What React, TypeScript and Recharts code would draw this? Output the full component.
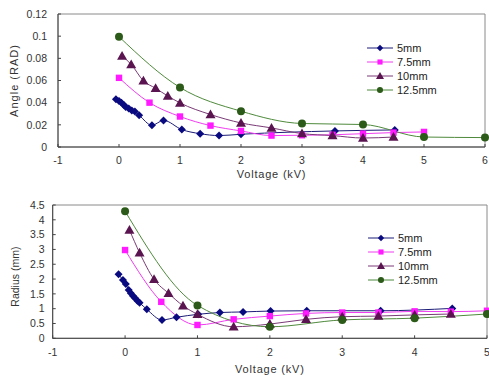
import React from "react"
import {
  Line,
  LineChart,
  ReferenceArea,
  XAxis,
  YAxis,
} from "recharts"

// ---- top chart: angle vs voltage ----
const angleX5 = [-0.05, 0, 0.04, 0.08, 0.11, 0.16, 0.21, 0.26, 0.33, 0.54, 0.73, 1.03, 1.33, 1.64, 2.0, 3.54, 4.52]
const angleY5 = [0.0431, 0.0416, 0.04, 0.038, 0.036, 0.0347, 0.033, 0.032, 0.0287, 0.0196, 0.024, 0.0157, 0.012, 0.0103, 0.0115, 0.0145, 0.0154]
const angleX75 = [0, 0.5, 1, 1.5, 2, 2.5, 3, 3.5, 4, 4.5, 5]
const angleY75 = [0.0624, 0.04, 0.0275, 0.0193, 0.0145, 0.0103, 0.0106, 0.011, 0.012, 0.013, 0.0136]
const angleX10 = [0.05, 0.2, 0.4, 0.6, 0.8, 1, 1.5, 2, 2.5, 3, 3.5, 4, 4.5]
const angleY10 = [0.082, 0.0745, 0.0597, 0.053, 0.046, 0.0398, 0.0293, 0.0217, 0.0172, 0.0121, 0.0103, 0.0081, 0.009]
const angleX125 = [0, 1, 2, 3, 4, 5, 6]
const angleY125 = [0.0995, 0.0537, 0.0323, 0.0212, 0.0203, 0.009, 0.0085]

// ---- bottom chart: radius vs voltage ----
const radiusX5 = [-0.09, -0.03, 0.01, 0.05, 0.08, 0.11, 0.14, 0.17, 0.2, 0.3, 0.51, 0.71, 1.01, 1.31, 1.63, 2.01, 2.51, 3.53, 4.52]
const radiusY5 = [2.16, 1.97, 1.83, 1.63, 1.52, 1.43, 1.35, 1.27, 1.2, 0.98, 0.62, 0.71, 0.81, 0.87, 0.89, 0.92, 0.93, 0.93, 1.01]
const radiusX75 = [0, 0.5, 1, 1.5, 2, 2.5, 3, 3.5, 4, 4.5, 5]
const radiusY75 = [2.98, 1.23, 0.45, 0.64, 0.75, 0.84, 0.87, 0.87, 0.91, 0.9, 0.93]
const radiusX10 = [0.06, 0.2, 0.4, 0.6, 0.8, 1, 1.5, 2, 2.5, 3, 3.5, 4, 4.5]
const radiusY10 = [3.66, 2.89, 1.99, 1.52, 1.1, 0.81, 0.39, 0.48, 0.64, 0.73, 0.75, 0.79, 0.82]
const radiusX125 = [0, 1, 2, 3, 4, 5]
const radiusY125 = [4.29, 1.11, 0.39, 0.62, 0.68, 0.82]

const seriesNames = ["5mm", "7.5mm", "10mm", "12.5mm"]

const angleTicksX = [-1, 0, 1, 2, 3, 4, 5, 6]
const angleTicksY = [0, 0.02, 0.04, 0.06, 0.08, 0.1, 0.12]
const radiusTicksX = [-1, 0, 1, 2, 3, 4, 5]
const radiusTicksY = [0, 0.5, 1, 1.5, 2, 2.5, 3, 3.5, 4, 4.5]

type Shape = "diamond" | "square" | "triangle" | "circle"

const styles: { shape: Shape; line: string; fill: string }[] = [
  { shape: "diamond", line: "#1c1c78", fill: "#0a0a80" },
  { shape: "square", line: "#f03cf0", fill: "#ff1aff" },
  { shape: "triangle", line: "#7a3a76", fill: "#5a1450" },
  { shape: "circle", line: "#4f8a3c", fill: "#2c5a18" },
]

const zip = (xs: number[], ys: number[]) => xs.map((x, i) => ({ x, y: ys[i] }))

const angleSeries = [
  zip(angleX5, angleY5),
  zip(angleX75, angleY75),
  zip(angleX10, angleY10),
  zip(angleX125, angleY125),
]
const radiusSeries = [
  zip(radiusX5, radiusY5),
  zip(radiusX75, radiusY75),
  zip(radiusX10, radiusY10),
  zip(radiusX125, radiusY125),
]

function Marker({ shape, cx, cy, color, s }: { shape: Shape; cx: number; cy: number; color: string; s: number }) {
  if (shape === "diamond")
    return <polygon points={`${cx},${cy - s} ${cx + s},${cy} ${cx},${cy + s} ${cx - s},${cy}`} fill={color} />
  if (shape === "square")
    return <rect x={cx - s * 0.8} y={cy - s * 0.8} width={s * 1.6} height={s * 1.6} fill={color} />
  if (shape === "triangle")
    return <polygon points={`${cx},${cy - s} ${cx + s},${cy + s * 0.75} ${cx - s},${cy + s * 0.75}`} fill={color} />
  return <circle cx={cx} cy={cy} r={s * 0.95} fill={color} />
}

const dotSize: Record<Shape, number> = { diamond: 4, square: 4, triangle: 5, circle: 4.2 }

const makeDot = (i: number) => (props: any) => {
  const { cx, cy, index } = props
  const st = styles[i]
  return <Marker key={`d${i}-${index}`} shape={st.shape} cx={cx} cy={cy} color={st.fill} s={dotSize[st.shape]} />
}

// legend drawn over the chart, like the Excel original
function LegendBox({ left, top }: { left: number; top: number }) {
  return (
    <svg width={110} height={60} style={{ position: "absolute", left, top }}>
      {seriesNames.map((name, i) => {
        const y = 7 + i * 14
        const st = styles[i]
        return (
          <g key={name}>
            <line x1={1} x2={27} y1={y} y2={y} stroke={st.line} strokeWidth={1} />
            <Marker shape={st.shape} cx={14} cy={y} color={st.fill} s={st.shape === "triangle" ? 4 : 3.2} />
            <text x={31} y={y + 4} fontSize={11} fill="#222">
              {name}
            </text>
          </g>
        )
      })}
    </svg>
  )
}

const tickStyle = { fontSize: 10.5, fill: "#333" }
const xLabelStyle = { fontSize: 11, fill: "#333", letterSpacing: 0.8 }

export default function App() {
  return (
    <div
      style={{
        position: "absolute",
        left: 0,
        top: 0,
        width: 489,
        height: 376,
        background: "#fff",
        fontFamily: "'Liberation Sans', Arial, sans-serif",
      }}
    >
      <div style={{ position: "absolute", left: 0, top: 0 }}>
        <LineChart width={489} height={180} margin={{ top: 14, right: 4, left: 0, bottom: 0 }}>
          <ReferenceArea x1={-1} x2={6} y1={0} y2={0.12} fill="none" stroke="#8a8a8a" strokeWidth={1} ifOverflow="visible" />
          <XAxis
            type="number"
            dataKey="x"
            domain={[-1, 6]}
            ticks={angleTicksX}
            interval={0}
            height={33}
            stroke="#444"
            tick={tickStyle}
            tickSize={-3}
            tickMargin={13}
            label={{ value: "Voltage (kV)", position: "insideBottom", offset: 2, style: xLabelStyle }}
          />
          <YAxis
            type="number"
            dataKey="y"
            domain={[0, 0.12]}
            ticks={angleTicksY}
            interval={0}
            width={58}
            stroke="#444"
            tick={tickStyle}
            tickSize={-3}
            tickMargin={14}
            label={{ value: "Angle (RAD)", angle: -90, position: "insideLeft", dx: 9, style: { textAnchor: "middle", fontSize: 11, fill: "#333", letterSpacing: 1 } }}
          />
          {angleSeries.map((d, i) => (
            <Line
              key={seriesNames[i]}
              data={d}
              dataKey="y"
              name={seriesNames[i]}
              type="monotone"
              stroke={styles[i].line}
              strokeWidth={1}
              dot={makeDot(i)}
              activeDot={false}
              isAnimationActive={false}
            />
          ))}
        </LineChart>
        <LegendBox left={366} top={41} />
      </div>
      <div style={{ position: "absolute", left: 0, top: 180 }}>
        <LineChart width={489} height={196} margin={{ top: 25, right: 2, left: 0, bottom: 0 }}>
          <ReferenceArea x1={-1} x2={5} y1={0} y2={4.5} fill="none" stroke="#8a8a8a" strokeWidth={1} ifOverflow="visible" />
          <XAxis
            type="number"
            dataKey="x"
            domain={[-1, 5]}
            ticks={radiusTicksX}
            interval={0}
            height={37.7}
            stroke="#444"
            tick={tickStyle}
            tickSize={-3}
            tickMargin={13}
            label={{ value: "Voltage (kV)", position: "insideBottom", offset: 3, style: xLabelStyle }}
          />
          <YAxis
            type="number"
            dataKey="y"
            domain={[0, 4.5]}
            ticks={radiusTicksY}
            interval={0}
            width={52.7}
            stroke="#444"
            tick={tickStyle}
            tickSize={-3}
            tickMargin={11}
            label={{ value: "Radius (mm)", angle: -90, position: "insideLeft", dx: 10, dy: 5, style: { textAnchor: "middle", fontSize: 10.5, fill: "#333" } }}
          />
          {radiusSeries.map((d, i) => (
            <Line
              key={seriesNames[i]}
              data={d}
              dataKey="y"
              name={seriesNames[i]}
              type="monotone"
              stroke={styles[i].line}
              strokeWidth={1}
              dot={makeDot(i)}
              activeDot={false}
              isAnimationActive={false}
            />
          ))}
        </LineChart>
        <LegendBox left={367} top={51} />
      </div>
    </div>
  )
}
